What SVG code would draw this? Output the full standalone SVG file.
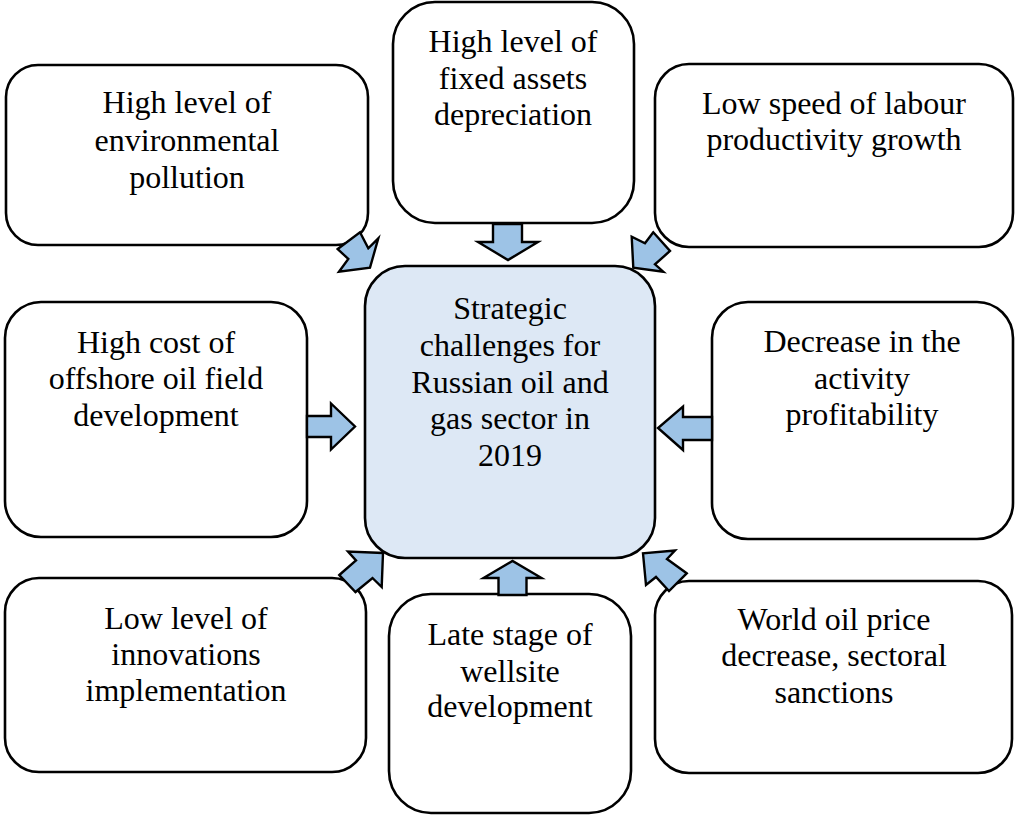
<svg xmlns="http://www.w3.org/2000/svg" width="1015" height="816" viewBox="0 0 1015 816">
  <style>
    .box { fill: #ffffff; stroke: #000000; stroke-width: 2.6; }
    .core { fill: #dde8f5; stroke: #000000; stroke-width: 2.6; }
    .arrow { fill: #9dc3e6; stroke: #000000; stroke-width: 2.4; stroke-linejoin: miter; }
    .label { font-family: 'Liberation Serif', Tinos, 'Times New Roman', Times, 'DejaVu Serif', 'Noto Serif', serif; font-size: 32px; fill: #000000; text-anchor: middle; }
  </style>
  <rect width="1015" height="816" fill="#ffffff"/>

  <!-- outer factor boxes -->
  <g id="node-pollution">
    <rect class="box" x="6" y="65" width="362" height="180" rx="32"/>
    <text class="label" font-family="Liberation Serif, serif" x="187" y="113">High level of</text>
    <text class="label" font-family="Liberation Serif, serif" x="187" y="150.5">environmental</text>
    <text class="label" font-family="Liberation Serif, serif" x="187" y="188">pollution</text>
  </g>
  <g id="node-depreciation">
    <rect class="box" x="393" y="2" width="241" height="221" rx="42"/>
    <text class="label" x="513" y="52">High level of</text>
    <text class="label" x="513" y="88.5">fixed assets</text>
    <text class="label" x="513" y="125">depreciation</text>
  </g>
  <g id="node-labour">
    <rect class="box" x="655" y="64" width="358" height="183" rx="34"/>
    <text class="label" x="834" y="114">Low speed of labour</text>
    <text class="label" x="834" y="150">productivity growth</text>
  </g>
  <g id="node-offshore">
    <rect class="box" x="5" y="302" width="302" height="235" rx="36"/>
    <text class="label" x="156" y="352.5">High cost of</text>
    <text class="label" x="156" y="389">offshore oil field</text>
    <text class="label" x="156" y="425.5">development</text>
  </g>
  <g id="node-core">
    <rect class="core" x="365" y="266" width="290" height="292" rx="40"/>
    <text class="label" x="510" y="319">Strategic</text>
    <text class="label" x="510" y="355.5">challenges for</text>
    <text class="label" x="510" y="392.5">Russian oil and</text>
    <text class="label" x="510" y="428.5">gas sector in</text>
    <text class="label" x="510" y="466">2019</text>
  </g>
  <g id="node-profitability">
    <rect class="box" x="712" y="302" width="301" height="237" rx="36"/>
    <text class="label" x="862" y="352">Decrease in the</text>
    <text class="label" x="862" y="388.5">activity</text>
    <text class="label" x="862" y="425">profitability</text>
  </g>
  <g id="node-innovations">
    <rect class="box" x="5" y="578" width="361" height="194" rx="34"/>
    <text class="label" x="186" y="628.5">Low level of</text>
    <text class="label" x="186" y="664.5">innovations</text>
    <text class="label" x="186" y="701">implementation</text>
  </g>
  <g id="node-wellsite">
    <rect class="box" x="389" y="594" width="242" height="219" rx="42"/>
    <text class="label" x="510" y="645">Late stage of</text>
    <text class="label" x="510" y="681.5">wellsite</text>
    <text class="label" x="510" y="717">development</text>
  </g>
  <g id="node-sanctions">
    <rect class="box" x="655" y="581" width="357" height="192" rx="34"/>
    <text class="label" x="834" y="630">World oil price</text>
    <text class="label" x="834" y="666">decrease, sectoral</text>
    <text class="label" x="834" y="702.5">sanctions</text>
  </g>

  <!-- block arrows pointing at the central box -->
  <g id="connectors">
    <polygon class="arrow" points="493,224 522,224 522,242 538,242 508,260 478,242 493,242"/>
    <polygon class="arrow" points="498.5,595 526.5,595 526.5,578 541.5,578 512.5,561 483.5,578 498.5,578"/>
    <polygon class="arrow" points="307,416 331,416 331,403.5 355,426.5 331,449.5 331,437 307,437"/>
    <polygon class="arrow" points="712,417 683,417 683,406.5 658,428 683,450 683,440 712,440"/>
    <polygon class="arrow" points="337.7,249 360,232.3 368.3,248.3 378.3,238.3 370,267.7 339,271.7 348.3,259"/>
    <polygon class="arrow" points="653.3,232.3 645,243.3 631.7,236.7 633.3,267.7 663.3,271.7 655,264.3 670,251"/>
    <polygon class="arrow" points="339.3,575 356,560.5 348,551.5 383,553 381.7,587 372.5,578 355.5,592"/>
    <polygon class="arrow" points="686.7,573.3 667,559 675,550.5 643,553.3 646,585 656,577 669,591"/>
  </g>
</svg>
